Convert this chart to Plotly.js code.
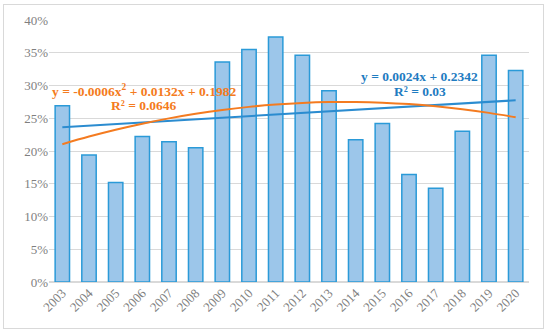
<!DOCTYPE html>
<html><head><meta charset="utf-8">
<script src="https://cdn.plot.ly/plotly-3.0.1.min.js"></script>
<style>
html,body{margin:0;padding:0;background:#fff;}
#frame{position:absolute;left:3px;top:4px;width:541px;height:325px;border:1.5px solid #d9d9d9;box-sizing:border-box;}
#chart{position:absolute;left:0;top:0;width:550px;height:335px;}
</style></head>
<body><div id="frame"></div><div id="chart"></div>
<script>
const years = [2003,2004,2005,2006,2007,2008,2009,2010,2011,2012,2013,2014,2015,2016,2017,2018,2019,2020];
const shares = [0.269,0.194,0.152,0.222,0.214,0.205,0.336,0.355,0.374,0.346,0.292,0.217,0.242,0.164,0.143,0.230,0.346,0.323];
const yTickVals = [0,0.05,0.10,0.15,0.20,0.25,0.30,0.35,0.40];
const yTickText = ['0%','5%','10%','15%','20%','25%','30%','35%','40%'];
const linearLabel = ['y = 0.0024x + 0.2342','R² = 0.03'];
const polyLabel = ['y = -0.0006x<sup>2</sup> + 0.0132x + 0.1982','R² = 0.0646'];

// least-squares polynomial fit on index x = 1..n
function polyfit(ys, deg){
  const n = deg+1, A = [], b = [];
  for(let i=0;i<n;i++){A.push(new Array(n).fill(0)); b.push(0);}
  ys.forEach((y,k)=>{const x=k+1;
    for(let i=0;i<n;i++){ b[i]+=y*Math.pow(x,i); for(let j=0;j<n;j++) A[i][j]+=Math.pow(x,i+j);} });
  for(let i=0;i<n;i++){
    for(let r=i+1;r<n;r++){const f=A[r][i]/A[i][i]; for(let c=i;c<n;c++) A[r][c]-=f*A[i][c]; b[r]-=f*b[i];}
  }
  const c=new Array(n).fill(0);
  for(let i=n-1;i>=0;i--){let s=b[i]; for(let j=i+1;j<n;j++) s-=A[i][j]*c[j]; c[i]=s/A[i][i];}
  return c;
}
const lin = polyfit(shares,1), quad = polyfit(shares,2);
const linY = shares.map((_,k)=>lin[0]+lin[1]*(k+1));
const quadY = shares.map((_,k)=>quad[0]+quad[1]*(k+1)+quad[2]*(k+1)*(k+1));

const serif = 'Liberation Serif, Times New Roman, serif';
const data = [
  {type:'bar', x:years, y:shares, width:0.54,
   marker:{color:'#9cc6ea', line:{color:'#2a9ad8', width:1.5}}, hoverinfo:'skip'},
  {type:'scatter', mode:'lines', x:years, y:linY, line:{color:'#2b8cd0', width:2}},
  {type:'scatter', mode:'lines', x:years, y:quadY, line:{color:'#f47b20', width:2, shape:'spline'}}
];
const layout = {
  width:550, height:335, showlegend:false,
  paper_bgcolor:'rgba(0,0,0,0)', plot_bgcolor:'rgba(0,0,0,0)',
  margin:{l:49, r:21, t:20, b:53},
  xaxis:{range:[2002.5,2020.5], tickvals:years, ticktext:years.map(String), tickangle:-45,
    showgrid:false, zeroline:false, showline:false, ticks:'',
    tickfont:{family:serif, size:13, color:'#7f7f7f'}},
  yaxis:{range:[0,0.40], tickvals:yTickVals, ticktext:yTickText, showgrid:true,
    gridcolor:'#d9d9d9', gridwidth:1, zeroline:true, zerolinecolor:'#d9d9d9', zerolinewidth:1.5,
    showline:false, ticks:'', tickfont:{family:serif, size:13, color:'#7f7f7f'}},
  annotations:[
    {x:2006.05, y:0.2925, xref:'x', yref:'y', text:'<b>'+polyLabel[0]+'</b>', showarrow:false,
     font:{family:serif, size:13.5, color:'#f47b20'}},
    {x:2006.05, y:0.269, xref:'x', yref:'y', text:'<b>'+polyLabel[1]+'</b>', showarrow:false,
     font:{family:serif, size:13.5, color:'#f47b20'}},
    {x:2016.4, y:0.313, xref:'x', yref:'y', text:'<b>'+linearLabel[0]+'</b>', showarrow:false,
     font:{family:serif, size:13.5, color:'#1f7cc1'}},
    {x:2016.4, y:0.291, xref:'x', yref:'y', text:'<b>'+linearLabel[1]+'</b>', showarrow:false,
     font:{family:serif, size:13.5, color:'#1f7cc1'}}
  ]
};
Plotly.newPlot('chart', data, layout, {displayModeBar:false, staticPlot:true});
</script></body></html>
